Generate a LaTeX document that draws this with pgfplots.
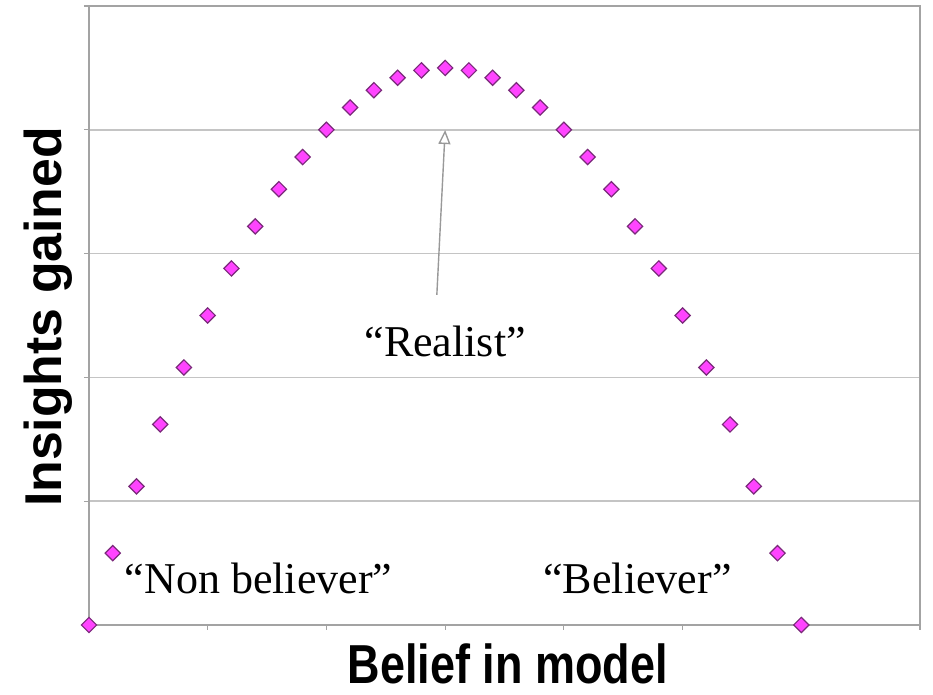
\documentclass[border=0pt]{standalone}
\usepackage{fontspec}
\setmainfont{Liberation Serif}
\setsansfont{Liberation Sans}
\usepackage{pgfplots}
\pgfplotsset{compat=1.18}
\usetikzlibrary{arrows.meta}
\definecolor{mk}{HTML}{FF44FF}
\definecolor{mkd}{HTML}{7A2A7A}
\definecolor{gridc}{HTML}{C4C4C4}
\definecolor{axc}{HTML}{A3A3A3}
\begin{document}
\begin{tikzpicture}
\begin{axis}[
  at={(0pt,0pt)}, anchor=south west,
  scale only axis, width=415.5pt, height=309.5pt,
  set layers, clip=false,
  xmin=0, xmax=7, ymin=0, ymax=5,
  xtick={0,1,2,3,4,5,6,7}, ytick={0,1,2,3,4,5},
  xticklabels={}, yticklabels={},
  tick pos=left, tick align=outside, major tick length=2.5pt,
  tick style={axc, line width=0.6pt},
  axis line style={axc, line width=0.8pt},
  ymajorgrids, grid style={gridc, line width=0.8pt},
  xlabel={Belief in model}, ylabel={Insights gained},
  xlabel style={font=\fontsize{22.5}{24}\sffamily\bfseries, at={(axis description cs:0.504,-0.0953)}, anchor=base, inner sep=0pt, yscale=1.22},
  ylabel style={font=\fontsize{25.9}{28}\sffamily\bfseries, at={(axis description cs:-0.0325,0.4976)}, anchor=base},
]
\addplot[only marks, mark=square*, mark size=2.7pt,
  mark options={rotate=45, fill=mk, draw=mkd, line width=0.6pt}] coordinates {
 (0,0) (0.2,0.58) (0.4,1.12) (0.6,1.62) (0.8,2.08) (1,2.5) (1.2,2.88) (1.4,3.22)
 (1.6,3.52) (1.8,3.78) (2,4) (2.2,4.18) (2.4,4.32) (2.6,4.42) (2.8,4.48) (3,4.5)
 (3.2,4.48) (3.4,4.42) (3.6,4.32) (3.8,4.18) (4,4) (4.2,3.78) (4.4,3.52) (4.6,3.22)
 (4.8,2.88) (5,2.5) (5.2,2.08) (5.4,1.62) (5.6,1.12) (5.8,0.58) (6,0)
};
\draw[gray!80, line width=0.7pt, -{Triangle[open, length=7pt, width=6pt]}] (axis cs:2.93,2.666) -- (axis cs:3,3.998);
\node[font=\fontsize{22}{24}\selectfont, anchor=base] at (axis cs:3,2.165) {“Realist”};
\node[font=\fontsize{22}{24}\selectfont, anchor=base] at (axis cs:1.428,0.258) {“Non believer”};
\node[font=\fontsize{22}{24}\selectfont, anchor=base] at (axis cs:4.62,0.258) {“Believer”};
\end{axis}
\pgfresetboundingbox
\path[use as bounding box] (-44.5pt,-35pt) rectangle (422pt,312.5pt);
\end{tikzpicture}
\end{document}
